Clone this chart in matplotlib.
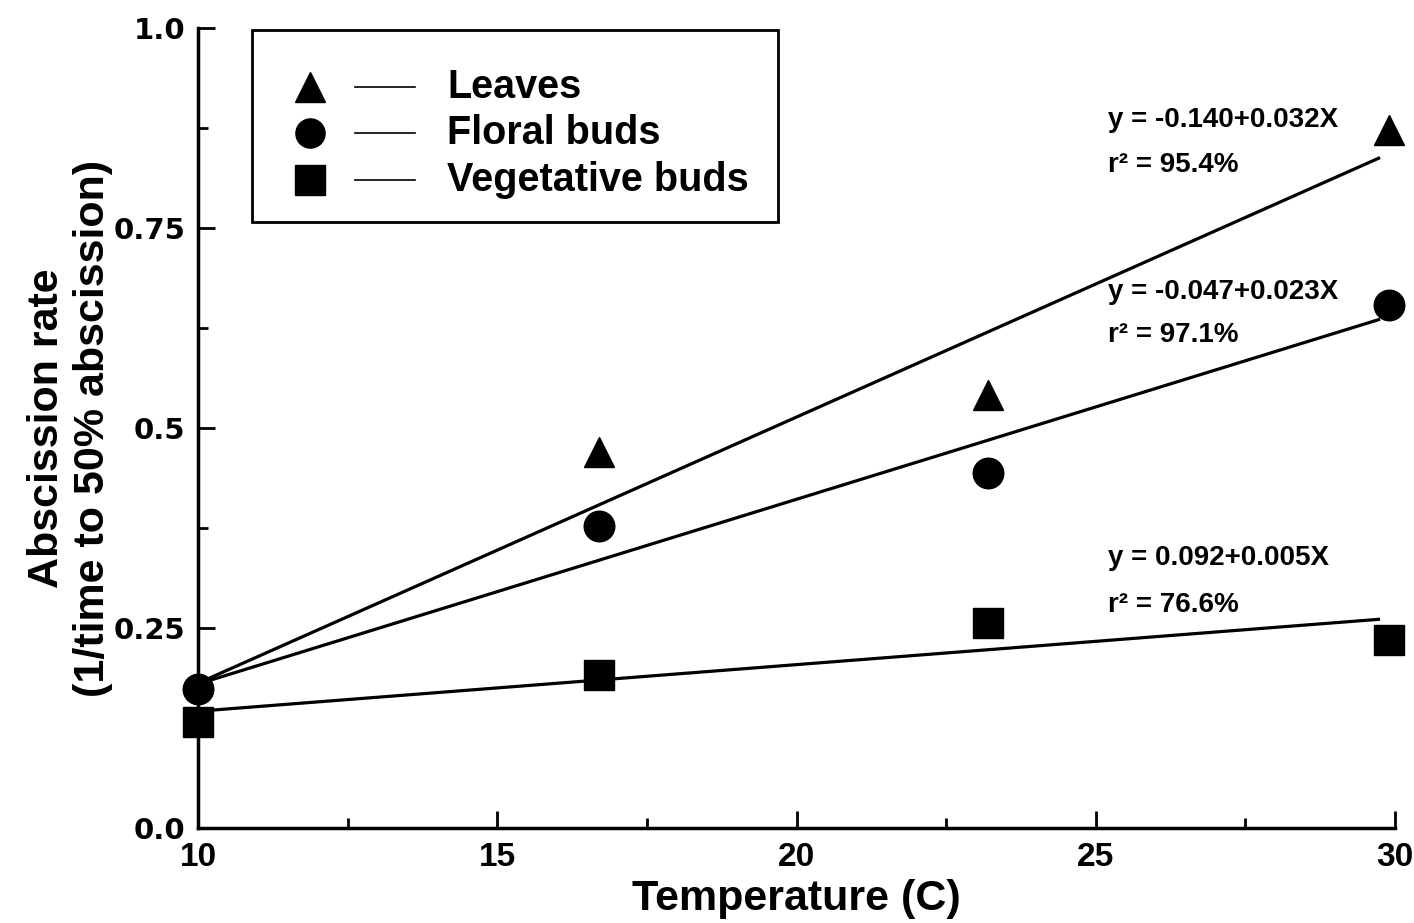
import matplotlib
matplotlib.use("Agg")
import matplotlib.pyplot as plt
from matplotlib.ticker import MultipleLocator, FixedLocator
from matplotlib.patches import Rectangle

plt.rcParams['font.family'] = ['Liberation Sans', 'DejaVu Sans']
plt.rcParams['font.weight'] = 'bold'

# Data
leaves_x = [16.7, 23.2, 29.9]
leaves_y = [0.47, 0.541, 0.872]
floral_x = [10.0, 16.7, 23.2, 29.9]
floral_y = [0.174, 0.377, 0.444, 0.654]
veg_x = [10.0, 16.7, 23.2, 29.9]
veg_y = [0.133, 0.191, 0.256, 0.235]

fit_x = [10.0, 29.75]
leaves_fit = [0.181, 0.838]
floral_fit = [0.180, 0.636]
veg_fit = [0.146, 0.261]

labels = ["Leaves", "Floral buds", "Vegetative buds"]
equations = ["y = -0.140+0.032X", "y = -0.047+0.023X", "y = 0.092+0.005X"]
r2_texts = ["r² = 95.4%", "r² = 97.1%", "r² = 76.6%"]
eq_pos = [(25.2, 0.885, 0.829), (25.2, 0.670, 0.616), (25.2, 0.3375, 0.279)]

xticks = [10, 15, 20, 25, 30]
yticks = [0.0, 0.25, 0.5, 0.75, 1.0]
ytick_labels = ["0.0", "0.25", "0.5", "0.75", "1.0"]

fig = plt.figure(figsize=(14.14, 9.23), dpi=100)
ax = fig.add_axes([0.140, 0.1029, 0.8466, 0.8668])

lw = 2.3
ax.plot(fit_x, leaves_fit, color='black', lw=lw, solid_capstyle='butt')
ax.plot(fit_x, floral_fit, color='black', lw=lw, solid_capstyle='butt')
ax.plot(fit_x, veg_fit, color='black', lw=lw, solid_capstyle='butt')

ax.plot(veg_x, veg_y, 's', color='black', ms=21, clip_on=False, zorder=5)
ax.plot(floral_x, floral_y, 'o', color='black', ms=22, clip_on=False, zorder=6)
ax.plot(leaves_x, leaves_y, '^', color='black', ms=22, clip_on=False, zorder=5)

for eq, r2, (ex, ey, ry) in zip(equations, r2_texts, eq_pos):
    ax.text(ex, ey, eq, fontsize=20, fontweight='bold', va='center', ha='left')
    ax.text(ex, ry, r2, fontsize=20, fontweight='bold', va='center', ha='left')

ax.set_xlim(10, 30)
ax.set_ylim(0, 1.0)
ax.xaxis.set_major_locator(FixedLocator(xticks))
ax.xaxis.set_minor_locator(MultipleLocator(2.5))
ax.yaxis.set_major_locator(FixedLocator(yticks))
ax.set_yticklabels(ytick_labels)
ax.yaxis.set_minor_locator(MultipleLocator(0.125))
ax.tick_params(which='both', direction='in', width=2)
ax.tick_params(which='major', length=12)
ax.tick_params(which='minor', length=7)
ax.tick_params(axis='x', pad=10, labelsize=24)
ax.tick_params(axis='y', pad=9, labelsize=21)
for lab in ax.get_xticklabels():
    lab.set_fontweight('bold')
for lab in ax.get_yticklabels():
    lab.set_fontweight('bold')
    lab.set_family(['DejaVu Sans'])
for s in ['top', 'right']:
    ax.spines[s].set_visible(False)
for s in ['left', 'bottom']:
    ax.spines[s].set_linewidth(2.5)

ax.set_xlabel("Temperature (C)", fontsize=31, fontweight='bold', va='top')
ax.xaxis.set_label_coords(0.5, -0.064)
ax.set_ylabel("Abscission rate\n(1/time to 50% abscission)", fontsize=31,
              fontweight='bold', linespacing=1.2, va='center')
ax.yaxis.set_label_coords(-0.107, 0.50)

# Legend box drawn manually
box = Rectangle((0.045, 0.7575), 0.4395, 0.240, transform=ax.transAxes,
                fill=True, facecolor='white', edgecolor='black', lw=2, zorder=7)
ax.add_patch(box)
markers = ['^', 'o', 's']
rows = [0.926, 0.869, 0.810]
for m, r, lab in zip(markers, rows, labels):
    ax.plot([0.0936], [r], m, color='black', ms=21, transform=ax.transAxes,
            zorder=8, clip_on=False)
    ax.plot([0.131, 0.181], [r, r], color='black', lw=1.2, transform=ax.transAxes,
            zorder=8, clip_on=False)
    ax.text(0.208, r, lab, fontsize=28.5, fontweight='bold', va='center', ha='left',
            transform=ax.transAxes, zorder=8)

fig.savefig("out.png", dpi=100)
